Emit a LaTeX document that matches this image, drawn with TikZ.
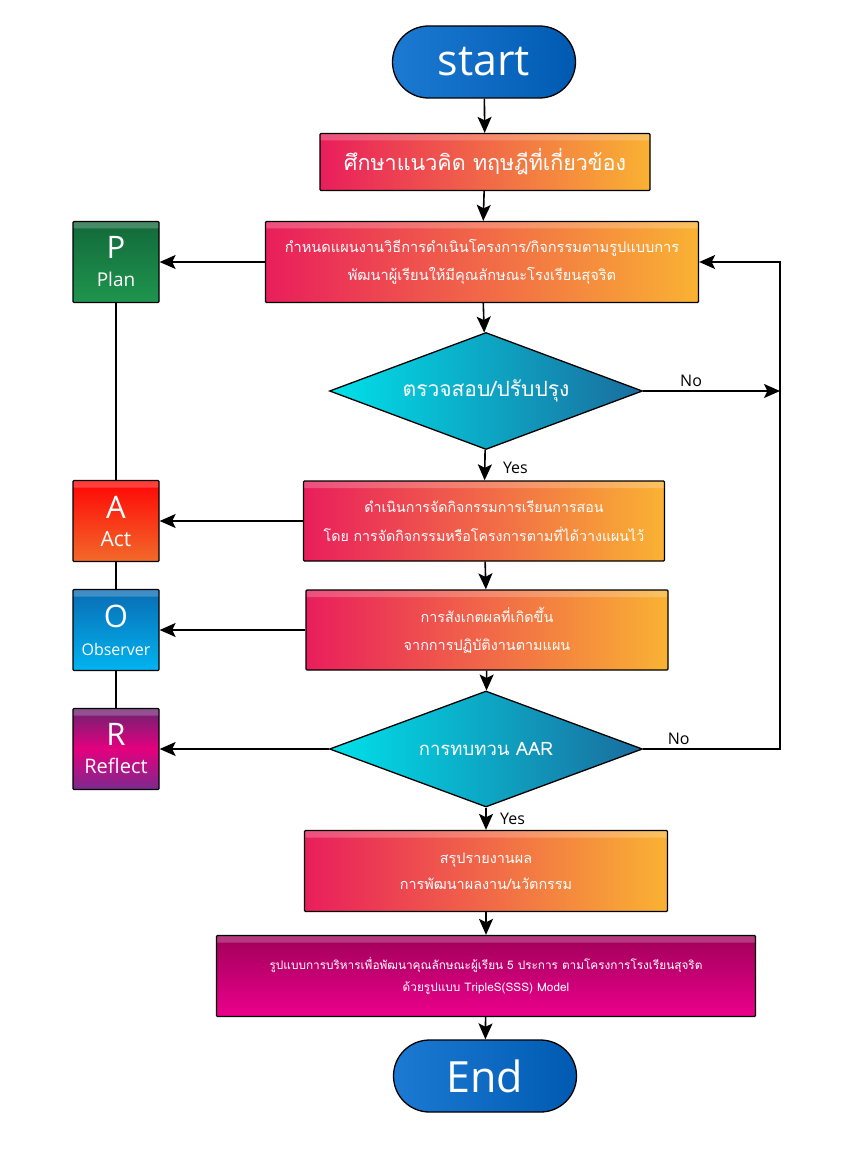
\documentclass[tikz,border=0pt]{standalone}
\usepackage{fontspec}
\setmainfont[Script=Thai]{Loma}
\newfontfamily\latinfont{Open Sans}
\usetikzlibrary{shapes.misc,shapes.geometric,arrows.meta}

\definecolor{boxleft}{HTML}{E91E5C}
\definecolor{boxright}{HTML}{F9B233}
\definecolor{diaLeft}{HTML}{00E1EA}
\definecolor{diaRight}{HTML}{1A6C9E}
\definecolor{termLeft}{HTML}{1C7AD2}
\definecolor{termRight}{HTML}{005AB2}
\definecolor{modelTop}{HTML}{A0005A}
\definecolor{modelBot}{HTML}{EC008C}
\definecolor{planTop}{HTML}{12693A}
\definecolor{planBot}{HTML}{1F954E}
\definecolor{actTop}{HTML}{FF0505}
\definecolor{actBot}{HTML}{F26A2A}
\definecolor{obsTop}{HTML}{0A6CB4}
\definecolor{obsBot}{HTML}{00B4F0}
\definecolor{refTop}{HTML}{6A2371}
\definecolor{refMid}{HTML}{E4007F}
\definecolor{refBot}{HTML}{7B2A8E}

\tikzset{
  glossy/.style={path picture={\fill[white,opacity=0.22]
      (path picture bounding box.north west) rectangle
      ([yshift=-7pt]path picture bounding box.north east);}},
  stepbox/.style={draw=black, line width=1.3pt, rounded corners=1pt, left color=boxleft,
      right color=boxright, text=white, align=center, inner sep=0pt, glossy},
  decision/.style={diamond, aspect=2.68, draw=black, line width=1.3pt, left color=diaLeft,
      right color=diaRight, text=white, inner sep=0pt},
  terminal/.style={rounded rectangle, draw=black, line width=1.3pt, left color=termLeft,
      right color=termRight, text=white, minimum width=183pt, minimum height=72pt,
      inner sep=0pt, font=\latinfont\fontsize{43}{48}\selectfont},
  pdca/.style={draw=black, line width=1.3pt, rounded corners=1pt, text=white, align=center,
      minimum width=86pt, minimum height=81pt, inner sep=0pt, glossy,
      font=\latinfont\fontsize{19}{28}\selectfont},
  flow/.style={-{Stealth[length=16pt,width=14pt,inset=3.5pt]}, line width=1.6pt},
  lab/.style={font=\latinfont\fontsize{16}{18}\selectfont, text=black},
}

\begin{document}
\begin{tikzpicture}[x=1pt,y=-1pt]
\useasboundingbox (0,0) rectangle (844,1155);
% main column
\node[terminal] (start) at (484,62) {start};
\node[stepbox, minimum width=330pt, minimum height=57pt, font=\fontsize{21.5}{26}\selectfont] (study) at (485,162) {ศึกษาแนวคิด ทฤษฎีที่เกี่ยวข้อง};
\node[stepbox, minimum width=433pt, minimum height=81pt, font=\fontsize{14.6}{28}\selectfont] (plan) at (482,262) {กำหนดแผนงานวิธีการดำเนินโครงการ/กิจกรรมตามรูปแบบการ\\พัฒนาผู้เรียนให้มีคุณลักษณะโรงเรียนสุจริต};
\node[decision, minimum width=313pt, minimum height=117pt, font=\fontsize{21}{24}\selectfont] (check) at (486,391) {ตรวจสอบ/ปรับปรุง};
\node[stepbox, minimum width=361pt, minimum height=80pt, font=\fontsize{14.2}{29}\selectfont] (act) at (484,521) {ดำเนินการจัดกิจกรรมการเรียนการสอน\\โดย การจัดกิจกรรมหรือโครงการตามที่ได้วางแผนไว้};
\node[stepbox, minimum width=362pt, minimum height=80pt, font=\fontsize{14.4}{28}\selectfont] (observe) at (487,630) {การสังเกตผลที่เกิดขึ้น\\จากการปฏิบัติงานตามแผน};
\node[decision, minimum width=313pt, minimum height=116pt, font=\fontsize{18.5}{22}\selectfont] (review) at (486,749) {การทบทวน AAR};
\node[stepbox, minimum width=363pt, minimum height=81pt, font=\fontsize{14.4}{26}\selectfont] (report) at (486,871) {สรุปรายงานผล\\การพัฒนาผลงาน/นวัตกรรม};
\node[stepbox, top color=modelTop, bottom color=modelBot, minimum width=539pt, minimum height=81pt, font=\fontsize{11.8}{22}\selectfont] (model) at (486,976) {รูปแบบการบริหารเพื่อพัฒนาคุณลักษณะผู้เรียน 5 ประการ ตามโครงการโรงเรียนสุจริต\\ด้วยรูปแบบ TripleS(SSS) Model};
\node[terminal] (end) at (485,1076) {End};
% PAOR column
\node[pdca, top color=planTop, bottom color=planBot] (P) at (116,262) {{\fontsize{31}{30}\selectfont P}\\{\fontsize{19}{22}\selectfont Plan}};
\node[pdca, top color=actTop, bottom color=actBot] (A) at (116,521) {{\fontsize{31}{30}\selectfont A}\\{\fontsize{21}{22}\selectfont Act}};
\node[pdca, top color=obsTop, bottom color=obsBot] (O) at (116,630) {{\fontsize{31}{30}\selectfont O}\\{\fontsize{16}{20}\selectfont Observer}};
\node[pdca, top color=refTop, bottom color=refBot, middle color=refMid] (R) at (116,749) {{\fontsize{31}{30}\selectfont R}\\{\fontsize{20}{22}\selectfont Reflect}};
% loop corners
\coordinate (loopTop) at (780,262);
\coordinate (loopMid) at (780,391);
\coordinate (loopBot) at (780,749);
% connectors
\draw[flow] (start) -- (study);
\draw[flow] (study) -- (plan);
\draw[flow] (plan) -- (check);
\draw[flow] (check) -- node[lab, right, xshift=14pt, yshift=-3pt]{Yes} (act);
\draw[flow] (act) -- (observe);
\draw[flow] (observe) -- (review);
\draw[flow] (review) -- node[lab, right, xshift=10pt]{Yes} (report);
\draw[flow] (report) -- (model);
\draw[flow] (model) -- (end);
\draw[flow] (check.east) -- node[lab, above, pos=0.35]{No} (loopMid);
\draw[flow] (review.east) -- node[lab, above, pos=0.26]{No} (loopBot) -- (loopTop) -- (plan.east);
\draw[flow] (plan.west) -- (P.east);
\draw[flow] (act.west) -- (A.east);
\draw[flow] (observe.west) -- (O.east);
\draw[flow] (review.west) -- (R.east);
\draw[line width=1.6pt] (P) -- (A);
\draw[line width=1.6pt] (A) -- (O);
\draw[line width=1.6pt] (O) -- (R);
\end{tikzpicture}
\end{document}
